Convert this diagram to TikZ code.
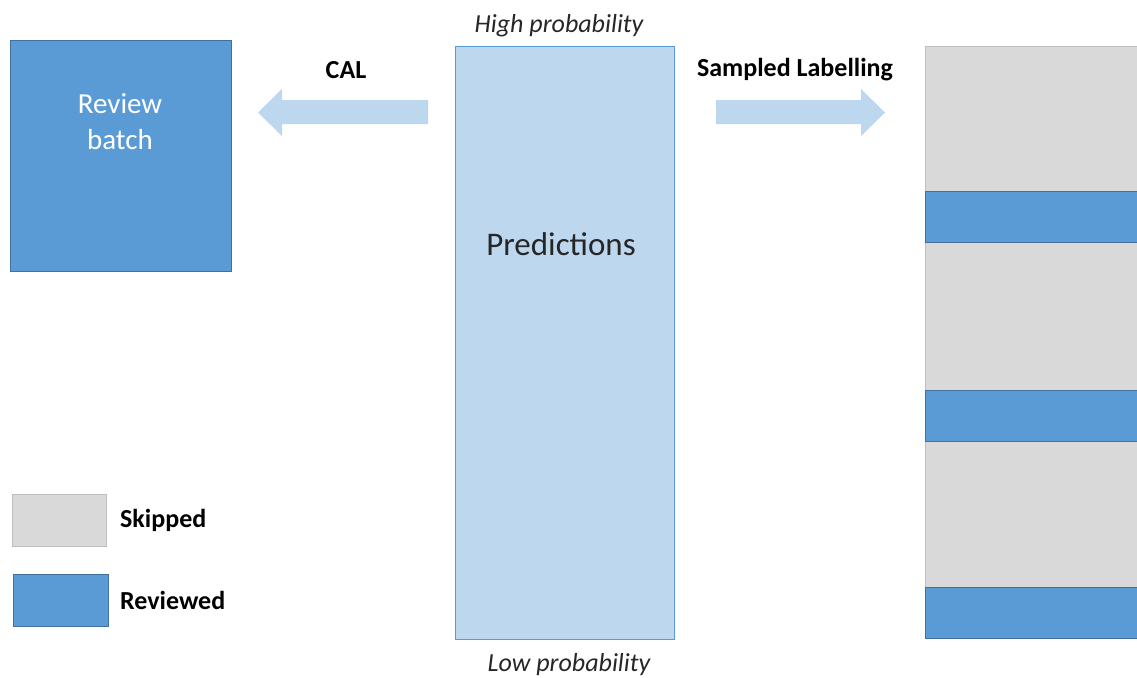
\documentclass[tikz,border=0pt]{standalone}
\usepackage{fontspec}
\setmainfont{Carlito}
\definecolor{revblue}{HTML}{5B9BD5}
\definecolor{revborder}{HTML}{41719C}
\definecolor{lightblue}{HTML}{BDD7EE}
\definecolor{skipgray}{HTML}{D9D9D9}
\definecolor{skipborder}{HTML}{BFBFBF}
\definecolor{txt}{HTML}{262626}
\begin{document}
\begin{tikzpicture}[x=1pt,y=-1pt,
  reviewed/.style={fill=revblue,draw=revborder,line width=1pt},
  skipped/.style={fill=skipgray,draw=skipborder,line width=1pt},
  blockarrow/.style={fill=lightblue,draw=none},
  boldlabel/.style={font=\fontsize{26}{30}\selectfont\bfseries,text=black,inner sep=0pt},
  problabel/.style={font=\fontsize{26}{30}\selectfont\itshape,text=txt,inner sep=0pt}]
\useasboundingbox (0,0) rectangle (1137,677);
\clip (0,0) rectangle (1137,677);
% Review batch
\draw[reviewed] (10,41) rectangle (231,271);
\node[text=white,font=\fontsize{29}{36}\selectfont,align=center,inner sep=0pt] (batch) at (120,122) {Review\\batch};
% Predictions
\draw[fill=lightblue,draw=revblue,line width=1pt] (455,47) rectangle (674,639);
\node[text=txt,font=\fontsize{33}{36}\selectfont,inner sep=0pt] (pred) at (561,244) {Predictions};
\node[problabel] (high) at (559,26) {High probability};
\node[problabel] (low) at (569,664.5) {Low probability};
% Arrows
\fill[blockarrow] (428,100) -- (282,100) -- (282,89) -- (258,112.5) -- (282,136) -- (282,124) -- (428,124) -- cycle;
\node[boldlabel] (cal) at (346,70) {CAL};
\fill[blockarrow] (716,100) -- (861,100) -- (861,89) -- (885,112.5) -- (861,136) -- (861,124) -- (716,124) -- cycle;
\node[boldlabel] (samp) at (795,70) {Sampled Labelling};
% Right column
\draw[skipped] (925,47) rectangle (1150,638);
\draw[reviewed] (925,191) rectangle (1150,242);
\draw[reviewed] (925,390) rectangle (1150,441);
\draw[reviewed] (925,587) rectangle (1150,638);
% Legend
\draw[skipped] (12,494) rectangle (106,546);
\node[boldlabel,anchor=west] (skiplab) at (120,520) {Skipped};
\draw[reviewed] (13,574) rectangle (108,626);
\node[boldlabel,anchor=west] (revlab) at (120,600) {Reviewed};
\end{tikzpicture}
\end{document}
